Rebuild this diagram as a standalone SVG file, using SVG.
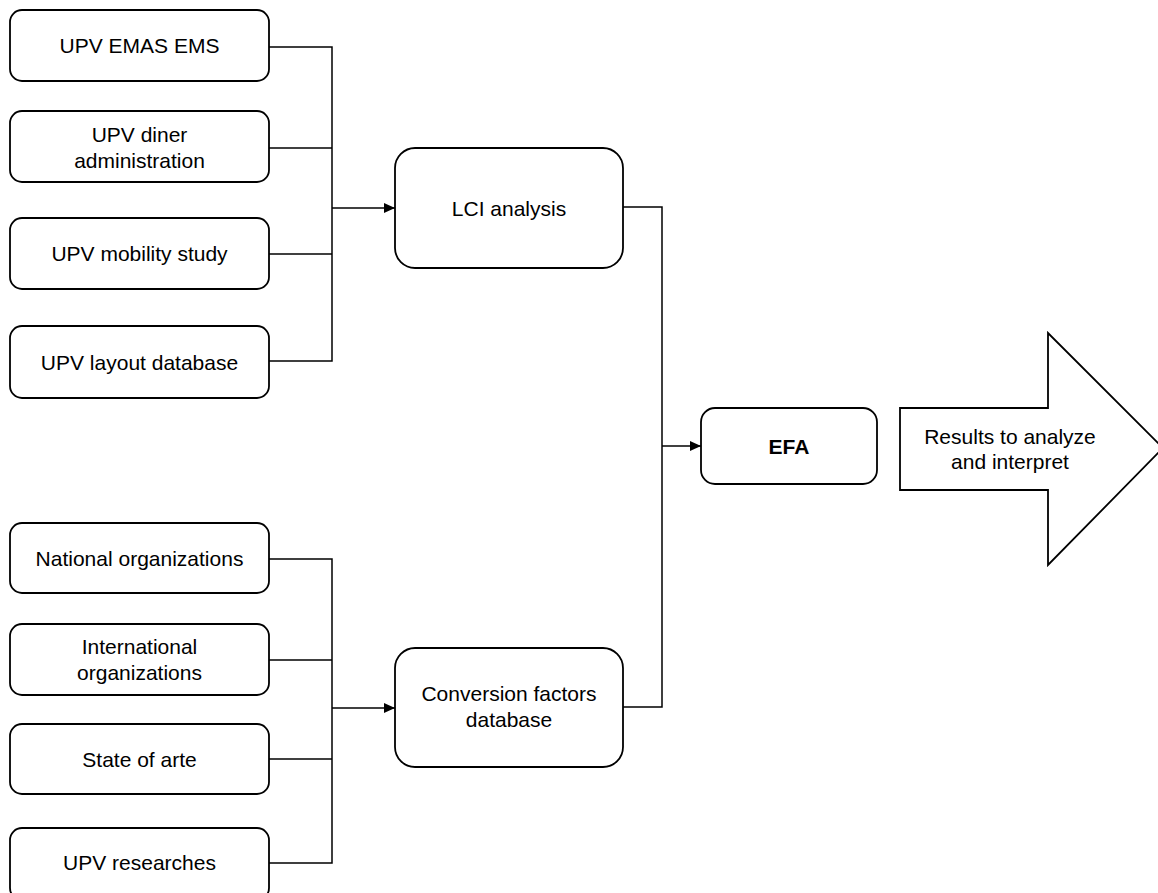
<svg xmlns="http://www.w3.org/2000/svg" width="1158" height="893" viewBox="0 0 1158 893">
<style>
.box{fill:#fff;stroke:#000;stroke-width:1.8}
.t{font-family:"Liberation Sans",Arial,sans-serif;font-size:21px;fill:#000;text-anchor:middle}
.b{font-weight:bold}
.c{fill:none;stroke:#000;stroke-width:1.5}
</style>
<defs>
<marker id="ah" markerWidth="12" markerHeight="12" refX="11" refY="6" orient="auto" markerUnits="userSpaceOnUse">
<path d="M0,1 L11,6 L0,11 Z" fill="#000"/>
</marker>
</defs>
<rect width="1158" height="893" fill="#fff"/>
<g id="connectors">
<path class="c" d="M269,47 H332 V361 H269"/>
<path class="c" d="M269,148 H332"/>
<path class="c" d="M269,254 H332"/>
<path class="c" d="M332,208 H395" stroke-width="2" marker-end="url(#ah)"/>
<path class="c" d="M269,559 H332 V863 H269"/>
<path class="c" d="M269,660 H332"/>
<path class="c" d="M269,759 H332"/>
<path class="c" d="M332,708 H395" marker-end="url(#ah)"/>
<path class="c" d="M623,207 H662 V707 H623"/>
<path class="c" d="M662,446 H701" marker-end="url(#ah)"/>
</g>
<g id="n1"><rect class="box" x="10" y="10" width="259" height="71" rx="12"/><text class="t" x="139.5" y="53">UPV EMAS EMS</text></g>
<g id="n2"><rect class="box" x="10" y="111" width="259" height="71" rx="12"/><text class="t" x="139.5" y="141.5">UPV diner</text><text class="t" x="139.5" y="167.5">administration</text></g>
<g id="n3"><rect class="box" x="10" y="218" width="259" height="71" rx="12"/><text class="t" x="139.5" y="261">UPV mobility study</text></g>
<g id="n4"><rect class="box" x="10" y="326" width="259" height="72" rx="12"/><text class="t" x="139.5" y="369.5">UPV layout database</text></g>
<g id="n5"><rect class="box" x="10" y="523" width="259" height="70" rx="12"/><text class="t" x="139.5" y="565.5">National organizations</text></g>
<g id="n6"><rect class="box" x="10" y="624" width="259" height="71" rx="12"/><text class="t" x="139.5" y="654">International</text><text class="t" x="139.5" y="680">organizations</text></g>
<g id="n7"><rect class="box" x="10" y="724" width="259" height="70" rx="12"/><text class="t" x="139.5" y="766.5">State of arte</text></g>
<g id="n8"><rect class="box" x="10" y="828" width="259" height="72" rx="12"/><text class="t" x="139.5" y="870">UPV researches</text></g>
<g id="lci"><rect class="box" x="395" y="148" width="228" height="120" rx="20"/><text class="t" x="509" y="215.5">LCI analysis</text></g>
<g id="cf"><rect class="box" x="395" y="648" width="228" height="119" rx="20"/><text class="t" x="509" y="701">Conversion factors</text><text class="t" x="509" y="727">database</text></g>
<g id="efa"><rect class="box" x="701" y="408" width="176" height="76" rx="14"/><text class="t b" x="789" y="453.5">EFA</text></g>
<g id="results"><path class="box" d="M900,408 H1048 V333 L1163,448 L1048,565 V490 H900 Z"/><text class="t" x="1010" y="444">Results to analyze</text><text class="t" x="1010" y="469">and interpret</text></g>
</svg>
